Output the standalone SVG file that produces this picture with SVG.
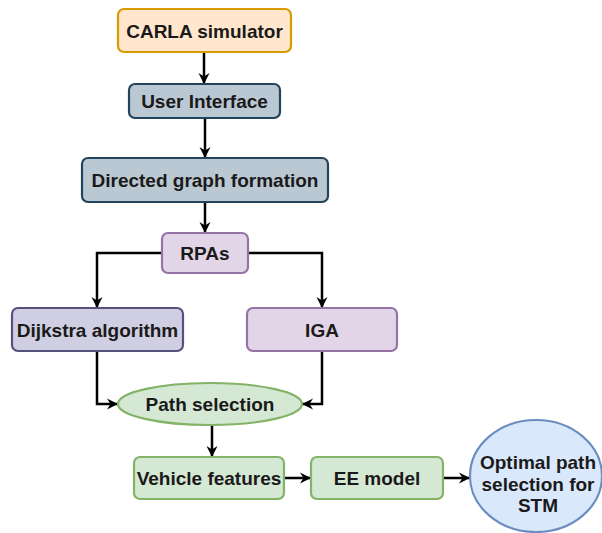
<svg xmlns="http://www.w3.org/2000/svg" width="602" height="533" viewBox="0 0 602 533">
<defs>
<marker id="arr" markerUnits="userSpaceOnUse" markerWidth="12" markerHeight="12" viewBox="0 0 12 12" refX="11" refY="6" orient="auto">
<path d="M0,0.5 L11,6 L0,11.5 L3.5,6 Z" fill="#000"/>
</marker>
<style>
text{font-family:"Liberation Sans",Arial,sans-serif;font-weight:bold;font-size:19px;fill:#1a1a1a;text-anchor:middle;dominant-baseline:central}
.orange{fill:#ffe6cc;stroke:#d79b00;stroke-width:2.2}
.slate{fill:#bac8d3;stroke:#23445d;stroke-width:2.2}
.purple{fill:#e1d5e7;stroke:#9673a6;stroke-width:2.2}
.indigo{fill:#d0cee2;stroke:#56517e;stroke-width:2.2}
.green{fill:#d5e8d4;stroke:#82b366;stroke-width:2.2}
.blue{fill:#dae8fc;stroke:#6c8ebf;stroke-width:2.2}
.edge{fill:none;stroke:#000;stroke-width:2.5;marker-end:url(#arr)}
</style>
</defs>
<rect width="602" height="533" fill="#fff"/>
<g id="connectors">
<path class="edge" d="M204,52 V84"/>
<path class="edge" d="M205,118 V158"/>
<path class="edge" d="M205,202 V233"/>
<path class="edge" d="M162,253 H97 V308"/>
<path class="edge" d="M248,253 H322 V308"/>
<path class="edge" d="M97,351 V404 H118"/>
<path class="edge" d="M322,351 V404 H302"/>
<path class="edge" d="M212,425 V457"/>
<path class="edge" d="M284,478 H311"/>
<path class="edge" d="M443,478 H470"/>
</g>
<g id="carla"><rect class="orange" x="118" y="9" width="173" height="43" rx="6"/><text x="204.5" y="31">CARLA simulator</text></g>
<g id="ui"><rect class="slate" x="129" y="84" width="151" height="34" rx="6"/><text x="204.5" y="101">User Interface</text></g>
<g id="dgf"><rect class="slate" x="82" y="158" width="246" height="44" rx="6"/><text x="205" y="180">Directed graph formation</text></g>
<g id="rpas"><rect class="purple" x="162" y="233" width="86" height="40" rx="6"/><text x="205" y="253">RPAs</text></g>
<g id="dijkstra"><rect class="indigo" x="12" y="308" width="171" height="43" rx="6"/><text x="97.5" y="330">Dijkstra algorithm</text></g>
<g id="iga"><rect class="purple" x="247" y="308" width="150" height="43" rx="6"/><text x="322" y="330">IGA</text></g>
<g id="path-selection"><ellipse class="green" cx="210" cy="404" rx="92" ry="21"/><text x="210" y="404">Path selection</text></g>
<g id="vehicle"><rect class="green" x="134" y="457" width="150" height="42" rx="6"/><text x="209" y="478">Vehicle features</text></g>
<g id="ee"><rect class="green" x="311" y="457" width="132" height="42" rx="6"/><text x="377" y="478">EE model</text></g>
<g id="optimal"><ellipse class="blue" cx="536" cy="476" rx="66" ry="56"/>
<text x="538" y="462">Optimal path</text><text x="538" y="484">selection for</text><text x="538" y="505">STM</text></g>
</svg>
